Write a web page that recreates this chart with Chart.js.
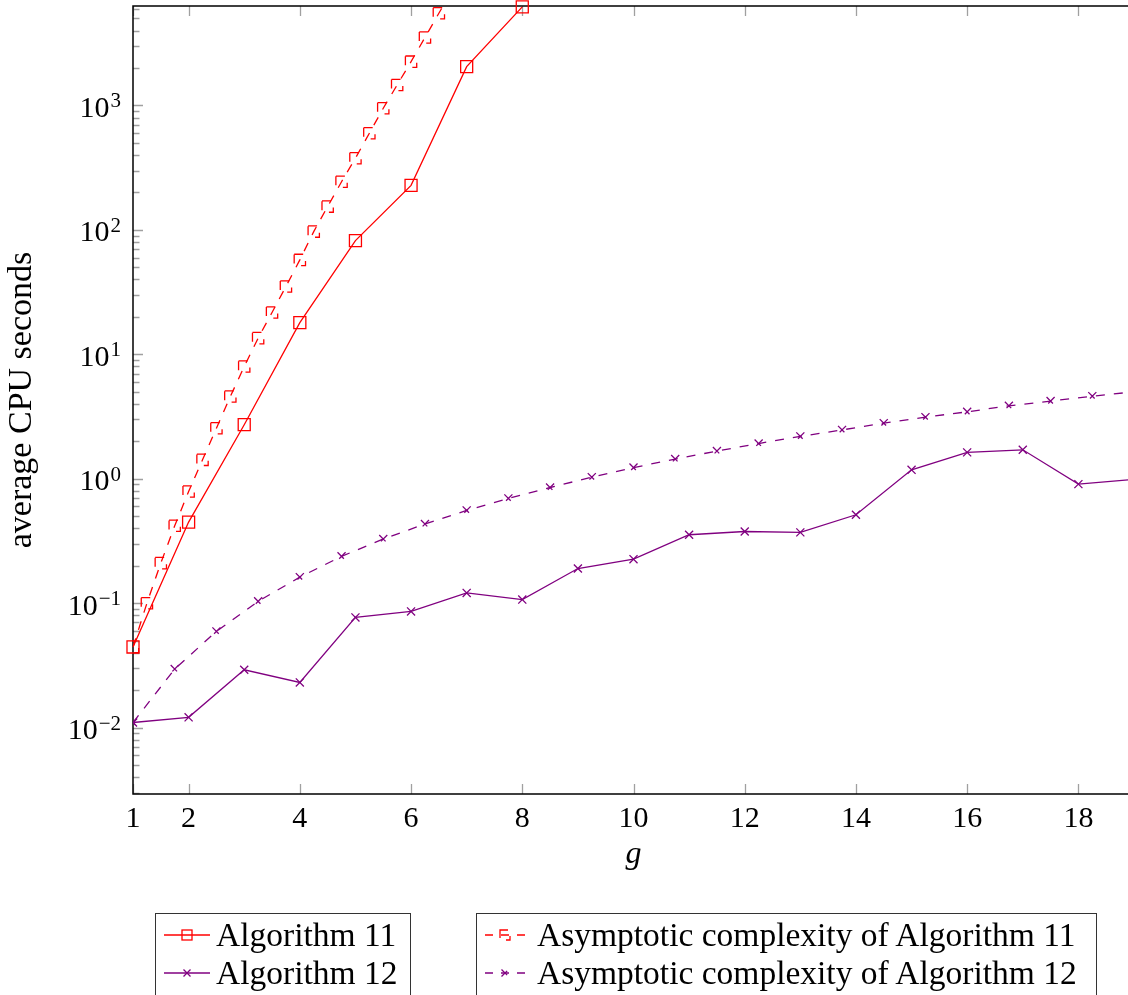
<!DOCTYPE html>
<html>
<head>
<meta charset="utf-8">
<script src="https://cdn.jsdelivr.net/npm/chart.js@4.4.1/dist/chart.umd.min.js"></script>
<style>
  html, body { margin: 0; padding: 0; overflow: hidden; background: #fff; }
  #wrap { position: relative; width: 1134px; height: 995px; }
  #chart { display: block; }
  .legend { position: absolute; top: 913px; height: 100px; border: 1.3px solid #333; box-sizing: border-box;
            font-family: "Liberation Serif", serif; font-size: 33.5px; color: #000; }
  .row { position: absolute; height: 38px; line-height: 38px; white-space: nowrap; display: flex; align-items: flex-start; }
  .row svg { display: block; }
</style>
</head>
<body>
<div id="wrap">
  <canvas id="chart" width="1134" height="995"></canvas>
  <div class="legend" style="left:155px; width:256px;">
    <div class="row" style="left:8px; top:2px;">
      <svg width="46" height="38"><line x1="0" y1="19" x2="46" y2="19" stroke="#ff0000" stroke-width="1.3"/><rect x="18" y="14" width="10" height="10" fill="none" stroke="#ff0000" stroke-width="1.3"/></svg>
      <span style="margin-left:6px">Algorithm 11</span>
    </div>
    <div class="row" style="left:8px; top:40px;">
      <svg width="46" height="38"><line x1="0" y1="19" x2="46" y2="19" stroke="#800080" stroke-width="1.3"/><path d="M19.5 15.5 L26.5 22.5 M19.5 22.5 L26.5 15.5" stroke="#800080" stroke-width="1.3"/></svg>
      <span style="margin-left:6px">Algorithm 12</span>
    </div>
  </div>
  <div class="legend" style="left:476px; width:621px;">
    <div class="row" style="left:8px; top:2px;">
      <svg width="40" height="38"><line x1="0" y1="19" x2="40" y2="19" stroke="#ff0000" stroke-width="1.3" stroke-dasharray="8 8"/><rect x="15" y="14" width="10" height="10" fill="none" stroke="#ff0000" stroke-width="1.3" stroke-dasharray="8 8"/></svg>
      <span style="margin-left:12px">Asymptotic complexity of Algorithm 11</span>
    </div>
    <div class="row" style="left:8px; top:40px;">
      <svg width="40" height="38"><line x1="0" y1="19" x2="40" y2="19" stroke="#800080" stroke-width="1.3" stroke-dasharray="8 8"/><path d="M16.5 15.5 L23.5 22.5 M16.5 22.5 L23.5 15.5" stroke="#800080" stroke-width="1.3" stroke-dasharray="8 8"/></svg>
      <span style="margin-left:12px">Asymptotic complexity of Algorithm 12</span>
    </div>
  </div>
</div>
<script>
// measured runs: g on the x axis, seconds on a log y axis
const gValues = [1, 2, 3, 4, 5, 6, 7, 8, 9, 10, 11, 12, 13, 14, 15, 16, 17, 18, 19];
const alg11 = [0.0445, 0.449, 2.72, 18.0, 82, 228, 2050, 6200];
const alg12 = [0.0110, 0.0121, 0.0292, 0.0231, 0.0769, 0.0859, 0.121, 0.107, 0.190, 0.226,
               0.355, 0.377, 0.371, 0.514, 1.18, 1.63, 1.71, 0.906, 0.99];

// asymptotic curves, sampled
const asymG11 = [1, 1.25, 1.5, 1.75, 2, 2.25, 2.5, 2.75, 3, 3.25, 3.5, 3.75, 4, 4.25, 4.5, 4.75,
                 5, 5.25, 5.5, 5.75, 6, 6.25, 6.5, 6.75];
const asym11 = [0.0445, 0.100, 0.210, 0.419, 0.791, 1.42, 2.55, 4.58, 7.98, 13.5, 21.7, 35.1,
                57.4, 96.9, 154, 244, 377, 598, 950, 1462, 2249, 3516, 5508, 8600];
const asymG12 = [1, 1.75, 2.5, 3.25, 4, 4.75, 5.5, 6.25, 7, 7.75, 8.5, 9.25, 10, 10.75, 11.5,
                 12.25, 13, 13.75, 14.5, 15.25, 16, 16.75, 17.5, 18.25, 19];
const asym12 = [0.0110, 0.0296, 0.0594, 0.1035, 0.162, 0.238, 0.328, 0.433, 0.557, 0.695, 0.851,
                1.03, 1.23, 1.44, 1.67, 1.92, 2.19, 2.47, 2.80, 3.13, 3.45, 3.86, 4.21, 4.61, 5.0];

const xTicks = [1, 2, 4, 6, 8, 10, 12, 14, 16, 18];
const yTicks = [0.01, 0.1, 1, 10, 100, 1000];

const RED = "#ff0000";
const PURPLE = "#800080";
const FONT = "'Liberation Serif', serif";
const TICK_GRAY = "#a0a0a0";

const toPts = (xs, ys) => ys.map((y, i) => ({ x: xs[i], y: y }));

// markers of the dashed series are drawn dashed too
const markerDash = {
  id: "markerDash",
  beforeDatasetDraw(chart, args) {
    const ds = chart.data.datasets[args.index];
    chart.ctx.save();
    if (ds.markerDash) chart.ctx.setLineDash(ds.markerDash);
  },
  afterDatasetDraw(chart) {
    chart.ctx.restore();
  }
};

// box frame and inward ticks
const frame = {
  id: "frame",
  beforeDatasetsDraw(chart) {
    const { ctx, chartArea: a, scales } = chart;
    const x = scales.x, y = scales.y;
    ctx.save();
    ctx.strokeStyle = TICK_GRAY;
    ctx.lineWidth = 1.3;
    ctx.beginPath();
    xTicks.forEach(v => {
      const px = Math.round(x.getPixelForValue(v)) + 0.5;
      ctx.moveTo(px, a.bottom); ctx.lineTo(px, a.bottom - 10);
      ctx.moveTo(px, a.top); ctx.lineTo(px, a.top + 10);
    });
    for (let e = -3; e <= 3; e++) {
      for (let m = 1; m <= 9; m++) {
        const v = m * Math.pow(10, e);
        if (v < y.min || v > y.max) continue;
        const py = Math.round(y.getPixelForValue(v)) + 0.5;
        ctx.moveTo(a.left, py); ctx.lineTo(a.left + (m === 1 ? 10 : 6.5), py);
      }
    }
    ctx.stroke();
    ctx.strokeStyle = "#000";
    ctx.lineWidth = 1.5;
    ctx.beginPath();
    ctx.moveTo(a.right, a.top); ctx.lineTo(a.left, a.top);
    ctx.lineTo(a.left, a.bottom); ctx.lineTo(a.right, a.bottom);
    ctx.stroke();
    ctx.restore();
  },
  // y labels as 10 with a raised exponent
  afterDraw(chart) {
    const { ctx } = chart;
    const y = chart.scales.y;
    const right = 121;
    ctx.save();
    ctx.fillStyle = "#000";
    ctx.textBaseline = "alphabetic";
    yTicks.forEach(v => {
      const py = y.getPixelForValue(v);
      const e = Math.round(Math.log10(v));
      const exp = e < 0 ? "\u2212" + (-e) : String(e);
      ctx.font = "21px " + FONT;
      const ew = ctx.measureText(exp).width;
      ctx.textAlign = "left";
      ctx.fillText(exp, right - ew, py + 2);
      ctx.font = "30px " + FONT;
      ctx.textAlign = "right";
      ctx.fillText("10", right - ew - 1, py + 11.5);
    });
    ctx.restore();
  }
};

new Chart(document.getElementById("chart").getContext("2d"), {
  type: "line",
  data: {
    datasets: [
      {
        label: "Algorithm 11",
        data: toPts(gValues, alg11),
        borderColor: RED, borderWidth: 1.3,
        pointStyle: "rect", pointRadius: 8.5,
        pointBorderColor: RED, pointBackgroundColor: "transparent", pointBorderWidth: 1.3,
        clip: false
      },
      {
        label: "Algorithm 12",
        data: toPts(gValues, alg12),
        borderColor: PURPLE, borderWidth: 1.3,
        pointStyle: "crossRot", pointRadius: 5.7,
        pointBorderColor: PURPLE, pointBorderWidth: 1.3
      },
      {
        label: "Asymptotic complexity of Algorithm 11",
        data: toPts(asymG11, asym11),
        borderColor: RED, borderWidth: 1.3, borderDash: [9, 9],
        pointStyle: "rect", pointRadius: 8,
        pointBorderColor: RED, pointBackgroundColor: "transparent", pointBorderWidth: 1.3,
        markerDash: [9, 9]
      },
      {
        label: "Asymptotic complexity of Algorithm 12",
        data: toPts(asymG12, asym12),
        borderColor: PURPLE, borderWidth: 1.3, borderDash: [9, 9],
        pointStyle: "crossRot", pointRadius: 5.7,
        pointBorderColor: PURPLE, pointBorderWidth: 1.3,
        markerDash: [9, 9]
      }
    ]
  },
  options: {
    responsive: false,
    animation: false,
    events: [],
    layout: { autoPadding: false, padding: { top: 6, right: 0, bottom: 115, left: 0 } },
    elements: { line: { tension: 0 } },
    plugins: {
      legend: { display: false },
      tooltip: { enabled: false }
    },
    scales: {
      x: {
        type: "linear", min: 1, max: 19,
        grid: { display: false, drawTicks: false },
        border: { display: false },
        afterBuildTicks: s => { s.ticks = xTicks.map(v => ({ value: v })); },
        afterFit: s => { s.height = 86; s.paddingLeft = 0; s.paddingRight = 0; },
        ticks: { color: "#000", font: { family: FONT, size: 30 }, padding: 7, maxRotation: 0, autoSkip: false },
        title: { display: true, text: "g", color: "#000", font: { family: FONT, size: 32, style: "italic" }, padding: { top: 0, bottom: 6 } }
      },
      y: {
        type: "logarithmic", min: 0.00293, max: 6300,
        grid: { display: false, drawTicks: false },
        border: { display: false },
        afterBuildTicks: s => { s.ticks = yTicks.map(v => ({ value: v })); },
        afterFit: s => { s.width = 133; s.paddingTop = 0; s.paddingBottom = 0; },
        ticks: { display: false },
        title: { display: true, text: "average CPU seconds", color: "#000", font: { family: FONT, size: 34 }, padding: { top: 2, bottom: 0 } }
      }
    }
  },
  plugins: [frame, markerDash]
});
</script>
</body>
</html>
